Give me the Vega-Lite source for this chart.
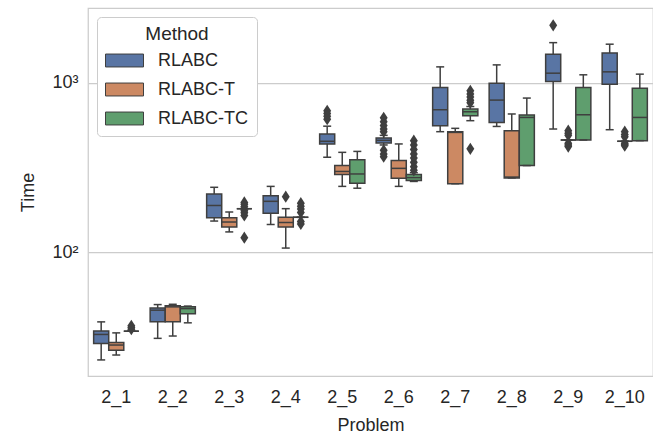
{
  "$schema": "https://vega.github.io/schema/vega-lite/v6.json",
  "width": 565,
  "height": 368,
  "autosize": {"type": "none"},
  "padding": {"left": 88, "top": 8, "right": 0, "bottom": 61},
  "background": "white",
  "config": {
    "font": "Liberation Sans",
    "view": {"stroke": "#cccccc", "strokeWidth": 1.25},
    "axis": {"labelColor": "#262626", "titleColor": "#262626", "titleFontWeight": "normal", "ticks": false, "domain": false, "labelFontSize": 18, "titleFontSize": 18, "labelFont": "Liberation Sans", "titleFont": "Liberation Sans"}
  },
  "datasets": {
    "boxes": [
      {"Problem": "2_1", "Method": "RLABC", "lo": 23.2, "q1": 29.0, "med": 32.8, "q3": 34.4, "hi": 38.9},
      {"Problem": "2_1", "Method": "RLABC-T", "lo": 24.8, "q1": 26.5, "med": 28.4, "q3": 29.4, "hi": 33.5},
      {"Problem": "2_1", "Method": "RLABC-TC", "lo": 34.3, "q1": 34.3, "med": 34.3, "q3": 34.3, "hi": 34.3},
      {"Problem": "2_2", "Method": "RLABC", "lo": 31.1, "q1": 38.9, "med": 45.6, "q3": 47.0, "hi": 49.2},
      {"Problem": "2_2", "Method": "RLABC-T", "lo": 32.1, "q1": 38.9, "med": 47.7, "q3": 48.4, "hi": 49.4},
      {"Problem": "2_2", "Method": "RLABC-TC", "lo": 38.4, "q1": 43.5, "med": 46.6, "q3": 47.7, "hi": 48.2},
      {"Problem": "2_3", "Method": "RLABC", "lo": 153, "q1": 160, "med": 189, "q3": 221, "hi": 242},
      {"Problem": "2_3", "Method": "RLABC-T", "lo": 132, "q1": 141, "med": 151, "q3": 160, "hi": 173},
      {"Problem": "2_3", "Method": "RLABC-TC", "lo": 181, "q1": 181, "med": 181, "q3": 181, "hi": 181},
      {"Problem": "2_4", "Method": "RLABC", "lo": 146, "q1": 170, "med": 200, "q3": 216, "hi": 245},
      {"Problem": "2_4", "Method": "RLABC-T", "lo": 106, "q1": 141, "med": 150, "q3": 161, "hi": 181},
      {"Problem": "2_4", "Method": "RLABC-TC", "lo": 161, "q1": 161, "med": 161, "q3": 161, "hi": 161},
      {"Problem": "2_5", "Method": "RLABC", "lo": 364, "q1": 436, "med": 452, "q3": 499, "hi": 555},
      {"Problem": "2_5", "Method": "RLABC-T", "lo": 245, "q1": 288, "med": 300, "q3": 325, "hi": 389},
      {"Problem": "2_5", "Method": "RLABC-TC", "lo": 239, "q1": 256, "med": 290, "q3": 352, "hi": 394},
      {"Problem": "2_6", "Method": "RLABC", "lo": 430, "q1": 442, "med": 458, "q3": 473, "hi": 490},
      {"Problem": "2_6", "Method": "RLABC-T", "lo": 245, "q1": 274, "med": 313, "q3": 348, "hi": 436},
      {"Problem": "2_6", "Method": "RLABC-TC", "lo": 262, "q1": 265, "med": 276, "q3": 288, "hi": 295},
      {"Problem": "2_7", "Method": "RLABC", "lo": 515, "q1": 558, "med": 694, "q3": 938, "hi": 1242},
      {"Problem": "2_7", "Method": "RLABC-T", "lo": 254, "q1": 254, "med": 510, "q3": 515, "hi": 539},
      {"Problem": "2_7", "Method": "RLABC-TC", "lo": 598, "q1": 640, "med": 675, "q3": 700, "hi": 725},
      {"Problem": "2_8", "Method": "RLABC", "lo": 553, "q1": 584, "med": 791, "q3": 993, "hi": 1276},
      {"Problem": "2_8", "Method": "RLABC-T", "lo": 275, "q1": 275, "med": 278, "q3": 522, "hi": 655},
      {"Problem": "2_8", "Method": "RLABC-TC", "lo": 325, "q1": 325, "med": 625, "q3": 646, "hi": 813},
      {"Problem": "2_9", "Method": "RLABC", "lo": 534, "q1": 1018, "med": 1140, "q3": 1475, "hi": 1726},
      {"Problem": "2_9", "Method": "RLABC-T", "lo": 460, "q1": 460, "med": 460, "q3": 460, "hi": 460},
      {"Problem": "2_9", "Method": "RLABC-TC", "lo": 460, "q1": 460, "med": 648, "q3": 938, "hi": 1115},
      {"Problem": "2_10", "Method": "RLABC", "lo": 529, "q1": 982, "med": 1161, "q3": 1501, "hi": 1690},
      {"Problem": "2_10", "Method": "RLABC-T", "lo": 452, "q1": 452, "med": 452, "q3": 452, "hi": 452},
      {"Problem": "2_10", "Method": "RLABC-TC", "lo": 456, "q1": 456, "med": 625, "q3": 930, "hi": 1125}
    ],
    "outliers": [
      {"Problem": "2_1", "Method": "RLABC-TC", "Time": 36.9},
      {"Problem": "2_1", "Method": "RLABC-TC", "Time": 36.0},
      {"Problem": "2_1", "Method": "RLABC-TC", "Time": 35.2},
      {"Problem": "2_3", "Method": "RLABC-TC", "Time": 197},
      {"Problem": "2_3", "Method": "RLABC-TC", "Time": 192},
      {"Problem": "2_3", "Method": "RLABC-TC", "Time": 186},
      {"Problem": "2_3", "Method": "RLABC-TC", "Time": 176},
      {"Problem": "2_3", "Method": "RLABC-TC", "Time": 171},
      {"Problem": "2_3", "Method": "RLABC-TC", "Time": 165},
      {"Problem": "2_3", "Method": "RLABC-TC", "Time": 122},
      {"Problem": "2_4", "Method": "RLABC-T", "Time": 213},
      {"Problem": "2_4", "Method": "RLABC-TC", "Time": 195},
      {"Problem": "2_4", "Method": "RLABC-TC", "Time": 187},
      {"Problem": "2_4", "Method": "RLABC-TC", "Time": 180},
      {"Problem": "2_4", "Method": "RLABC-TC", "Time": 172},
      {"Problem": "2_4", "Method": "RLABC-TC", "Time": 152},
      {"Problem": "2_4", "Method": "RLABC-TC", "Time": 147},
      {"Problem": "2_5", "Method": "RLABC", "Time": 684},
      {"Problem": "2_5", "Method": "RLABC", "Time": 660},
      {"Problem": "2_5", "Method": "RLABC", "Time": 635},
      {"Problem": "2_5", "Method": "RLABC", "Time": 610},
      {"Problem": "2_6", "Method": "RLABC", "Time": 622},
      {"Problem": "2_6", "Method": "RLABC", "Time": 590},
      {"Problem": "2_6", "Method": "RLABC", "Time": 560},
      {"Problem": "2_6", "Method": "RLABC", "Time": 535},
      {"Problem": "2_6", "Method": "RLABC", "Time": 515},
      {"Problem": "2_6", "Method": "RLABC", "Time": 400},
      {"Problem": "2_6", "Method": "RLABC", "Time": 380},
      {"Problem": "2_6", "Method": "RLABC", "Time": 367},
      {"Problem": "2_6", "Method": "RLABC-TC", "Time": 456},
      {"Problem": "2_6", "Method": "RLABC-TC", "Time": 430},
      {"Problem": "2_6", "Method": "RLABC-TC", "Time": 405},
      {"Problem": "2_6", "Method": "RLABC-TC", "Time": 380},
      {"Problem": "2_6", "Method": "RLABC-TC", "Time": 360},
      {"Problem": "2_6", "Method": "RLABC-TC", "Time": 340},
      {"Problem": "2_6", "Method": "RLABC-TC", "Time": 320},
      {"Problem": "2_6", "Method": "RLABC-TC", "Time": 305},
      {"Problem": "2_7", "Method": "RLABC-TC", "Time": 897},
      {"Problem": "2_7", "Method": "RLABC-TC", "Time": 860},
      {"Problem": "2_7", "Method": "RLABC-TC", "Time": 825},
      {"Problem": "2_7", "Method": "RLABC-TC", "Time": 790},
      {"Problem": "2_7", "Method": "RLABC-TC", "Time": 763},
      {"Problem": "2_7", "Method": "RLABC-TC", "Time": 408},
      {"Problem": "2_9", "Method": "RLABC", "Time": 2185},
      {"Problem": "2_9", "Method": "RLABC-T", "Time": 522},
      {"Problem": "2_9", "Method": "RLABC-T", "Time": 505},
      {"Problem": "2_9", "Method": "RLABC-T", "Time": 490},
      {"Problem": "2_9", "Method": "RLABC-T", "Time": 440},
      {"Problem": "2_9", "Method": "RLABC-T", "Time": 430},
      {"Problem": "2_9", "Method": "RLABC-T", "Time": 421},
      {"Problem": "2_10", "Method": "RLABC-T", "Time": 515},
      {"Problem": "2_10", "Method": "RLABC-T", "Time": 495},
      {"Problem": "2_10", "Method": "RLABC-T", "Time": 480},
      {"Problem": "2_10", "Method": "RLABC-T", "Time": 440},
      {"Problem": "2_10", "Method": "RLABC-T", "Time": 432},
      {"Problem": "2_10", "Method": "RLABC-T", "Time": 426}
    ]
  },
  "encoding": {
    "x": {
      "field": "Problem", "type": "nominal",
      "sort": ["2_1", "2_2", "2_3", "2_4", "2_5", "2_6", "2_7", "2_8", "2_9", "2_10"],
      "scale": {"paddingInner": 0, "paddingOuter": 0},
      "axis": {"title": "Problem", "labelAngle": 0, "labelPadding": 12, "titlePadding": 10}
    },
    "xOffset": {
      "field": "Method", "type": "nominal",
      "sort": ["RLABC", "RLABC-T", "RLABC-TC"],
      "scale": {"paddingInner": 0, "paddingOuter": 0.375}
    }
  },
  "layer": [
    {
      "data": {"name": "boxes"},
      "mark": {"type": "rule", "color": "#3f3f3f", "strokeWidth": 1.5},
      "encoding": {
        "y": {"field": "lo", "type": "quantitative",
          "scale": {"type": "log", "domain": [18.65, 2763], "nice": false},
          "axis": {"title": "Time", "values": [100, 1000], "labelExpr": "datum.value == 100 ? '10²' : '10³'", "grid": true, "gridColor": "#cccccc", "gridWidth": 1.25, "labelPadding": 10, "titlePadding": 14}},
        "y2": {"field": "hi"}
      }
    },
    {
      "data": {"name": "boxes"},
      "mark": {"type": "bar", "stroke": "#3f3f3f", "strokeWidth": 1.5, "opacity": 1},
      "encoding": {
        "y": {"field": "q1", "type": "quantitative"},
        "y2": {"field": "q3"},
        "color": {
          "field": "Method", "type": "nominal",
          "sort": ["RLABC", "RLABC-T", "RLABC-TC"],
          "scale": {"domain": ["RLABC", "RLABC-T", "RLABC-TC"], "range": ["#5975a4", "#cc8963", "#5f9e6e"]},
          "legend": {
            "title": "Method", "orient": "none", "legendX": 9, "legendY": 9,
            "titleFontSize": 19, "titleFontWeight": "normal", "titleColor": "#262626", "titleAnchor": "middle", "titlePadding": -3,
            "labelFontSize": 18, "labelColor": "#262626", "labelOffset": 14,
            "fillColor": "white", "strokeColor": "#cccccc", "cornerRadius": 4, "padding": 8,
            "symbolType": "M-1,-0.34L1,-0.34L1,0.34L-1,0.34Z", "symbolSize": 1444, "symbolOpacity": 1,
            "symbolStrokeColor": "#3f3f3f", "symbolStrokeWidth": 1, "rowPadding": -4.5,
            "encode": {"symbols": {"update": {"stroke": {"value": "#3f3f3f"}, "strokeWidth": {"value": 1}}}}
          }
        }
      }
    },
    {
      "data": {"name": "boxes"},
      "mark": {"type": "tick", "color": "#3f3f3f", "thickness": 1.5, "size": 15, "opacity": 1},
      "encoding": {"y": {"field": "med", "type": "quantitative"}}
    },
    {
      "data": {"name": "boxes"},
      "mark": {"type": "tick", "color": "#3f3f3f", "thickness": 1.5, "size": 8, "opacity": 1},
      "encoding": {"y": {"field": "lo", "type": "quantitative"}}
    },
    {
      "data": {"name": "boxes"},
      "mark": {"type": "tick", "color": "#3f3f3f", "thickness": 1.5, "size": 8, "opacity": 1},
      "encoding": {"y": {"field": "hi", "type": "quantitative"}}
    },
    {
      "data": {"name": "outliers"},
      "mark": {"type": "point", "shape": "M0,-1L0.65,0L0,1L-0.65,0Z", "filled": true, "color": "#3f3f3f", "size": 150, "opacity": 1},
      "encoding": {"y": {"field": "Time", "type": "quantitative"}}
    }
  ]
}
